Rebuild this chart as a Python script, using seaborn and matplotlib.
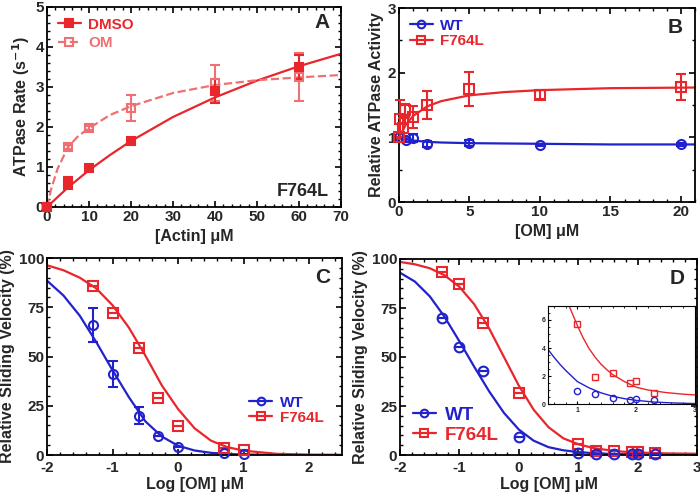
import numpy as np
import pandas as pd
import matplotlib
matplotlib.use("Agg")
import matplotlib.pyplot as plt
from matplotlib.lines import Line2D
from matplotlib.ticker import MultipleLocator
import seaborn as sns

# ---- panel A: actin-activated ATPase (F764L) ----
actin = [0, 5, 10, 20, 40, 60]
dmso_rate = [0, 0.6, 0.97, 1.65, 2.9, 3.5]
dmso_err = [0, 0.15, 0.05, 0.05, 0.3, 0.3]
om_rate = [0, 1.5, 1.97, 2.47, 3.1, 3.25]
om_err = [0, 0.05, 0.05, 0.32, 0.45, 0.6]
dmso_fit_x = [0, 5, 10, 15, 20, 30, 40, 50, 60, 70]
dmso_fit_y = [0, 0.49, 0.92, 1.30, 1.65, 2.25, 2.74, 3.16, 3.52, 3.83]
om_fit_x = [0, 1, 2.5, 5, 7.5, 10, 15, 20, 30, 40, 50, 60, 70]
om_fit_y = [0, 0.45, 0.95, 1.5, 1.78, 1.97, 2.3, 2.52, 2.85, 3.05, 3.17, 3.24, 3.3]

# ---- panel B: relative ATPase vs OM ----
b_wt_x = [0, 0.5, 1, 2, 5, 10, 20]
b_wt_y = [1.0, 0.96, 0.99, 0.9, 0.91, 0.88, 0.89]
b_wt_err = [0, 0.03, 0.06, 0.05, 0.05, 0.02, 0.02]
b_mut_x = [0, 0.1, 0.25, 0.4, 1, 2, 5, 10, 20]
b_mut_y = [1.0, 1.28, 1.15, 1.42, 1.32, 1.5, 1.75, 1.66, 1.78]
b_mut_err = [0, 0.3, 0.15, 0.1, 0.17, 0.22, 0.26, 0.07, 0.2]
b_wt_fit_x = [0, 0.5, 1, 2, 3, 5, 10, 15, 21]
b_wt_fit_y = [1.0, 0.97, 0.95, 0.93, 0.92, 0.91, 0.9, 0.89, 0.89]
b_mut_fit_x = [0, 0.25, 0.5, 1, 2, 3, 5, 7.5, 10, 15, 21]
b_mut_fit_y = [1.0, 1.1, 1.2, 1.33, 1.48, 1.56, 1.65, 1.7, 1.73, 1.76, 1.77]

# ---- panel C: sliding velocity ----
c_x = [-1.3, -1, -0.6, -0.3, 0, 0.7, 1]
c_wt_y = [66, 41, 20, 9.5, 4, 1, 0.5]
c_wt_err = [8.5, 6.5, 4.5, 0, 0, 0, 0]
c_mut_y = [86, 72, 54.5, 29, 14.5, 3.5, 2.5]
fit_x = [-2, -1.75, -1.5, -1.25, -1, -0.75, -0.5, -0.25, 0, 0.25, 0.5, 0.75, 1, 1.5, 2, 2.5]
c_wt_fit = [88.5, 81, 70.7, 57.4, 43, 29.3, 17.1, 9.4, 4.7, 2.3, 1.1, 0.5, 0.25, 0.05, 0, 0]
c_mut_fit = [96.3, 93.8, 90, 84.6, 76, 64.6, 50.5, 35.4, 23.3, 13.6, 7.3, 4.0, 2.2, 0.6, 0.15, 0.04]

# ---- panel D: sliding velocity, wider range ----
d_x = [-1.3, -1, -0.6, 0, 1, 1.3, 1.6, 1.9, 2, 2.3]
d_wt_y = [70, 55, 43, 9, 0.95, 0.7, 0.43, 0.3, 0.38, 0.26]
d_mut_y = [93.5, 87, 67.5, 31.5, 5.7, 1.95, 2.24, 1.52, 1.64, 0.81]
d_fit_x = [-2, -1.75, -1.5, -1.25, -1, -0.75, -0.5, -0.25, 0, 0.25, 0.5, 0.75, 1,
           1.25, 1.5, 1.75, 2, 2.5, 3]
d_wt_fit = [93, 88.5, 81, 70.5, 58, 45, 32.5, 21.5, 13, 7.3, 4.0, 2.4, 1.5,
            0.95, 0.62, 0.4, 0.26, 0.1, 0.04]
d_mut_fit = [98.5, 97.3, 95.3, 91.7, 85.8, 76.9, 64.6, 50, 35.4, 23.1, 14.2, 8.5, 5.5,
             3.6, 2.5, 1.7, 1.25, 0.8, 0.65]
# inset curves
ins_wt_x = [0.5, 0.6, 0.7, 0.8, 0.9, 1, 1.2, 1.4, 1.6, 1.8, 2, 2.3, 2.6, 3]
ins_wt_y = [3.9, 3.35, 2.85, 2.4, 2.0, 1.6, 1.15, 0.8, 0.55, 0.38, 0.26, 0.14, 0.08, 0.03]
ins_mut_x = [0.85, 0.9, 1, 1.1, 1.2, 1.3, 1.4, 1.5, 1.6, 1.8, 2, 2.2, 2.5, 2.8, 3]
ins_mut_y = [7.1, 6.6, 5.6, 4.7, 3.95, 3.35, 2.85, 2.45, 2.1, 1.6, 1.2, 1.0, 0.82, 0.7, 0.65]

RED = "#e8262b"
PINK = "#ef7072"
BLUE = "#2222cc"

sns.set_style("ticks")
plt.rcParams['font.family'] = ['Liberation Sans', 'DejaVu Sans']
plt.rcParams['font.weight'] = 'bold'
plt.rcParams['axes.labelweight'] = 'bold'
plt.rcParams['axes.linewidth'] = 1.3
plt.rcParams['axes.unicode_minus'] = False

fig = plt.figure(figsize=(7, 4.98), dpi=100)
W, H = 700, 498
LAB = 11.5


def px_axes(left, right, top, bottom):
    return fig.add_axes([left / W, (H - bottom) / H, (right - left) / W, (bottom - top) / H])


def style(ax, xmaj, xmin, ymaj, ymin, size=11):
    ax.xaxis.set_major_locator(MultipleLocator(xmaj))
    ax.xaxis.set_minor_locator(MultipleLocator(xmin))
    ax.yaxis.set_major_locator(MultipleLocator(ymaj))
    ax.yaxis.set_minor_locator(MultipleLocator(ymin))
    ax.tick_params(which='both', direction='in', top=True, right=True, labelsize=size,
                   color='black', pad=2)
    ax.tick_params(which='major', length=4, width=1.2)
    ax.tick_params(which='minor', length=2.5, width=1.0)
    for s in ax.spines.values():
        s.set_visible(True)
        s.set_color('black')


def curve(ax, x, y, color, ls='-', lw=1.6):
    sns.lineplot(x=x, y=y, ax=ax, color=color, linestyle=ls, linewidth=lw,
                 estimator=None, sort=False, legend=False)


def points(ax, x, y, err, color, marker, filled=False, ms=6.5):
    ax.errorbar(x, y, yerr=err, fmt=marker, color=color, ms=ms, mew=1.5,
                mfc=color if filled else 'none', mec=color, ecolor=color,
                elinewidth=1.5, capsize=3.5, capthick=1.5, clip_on=False, zorder=4)


def legend(ax, items, size=11, spacing=0.1, hlen=1.5, **kw):
    handles = [Line2D([], [], color=c, marker=m, ls=ls, lw=1.6, ms=5.5, mew=1.5,
                      mfc=c if f else 'none', mec=c) for c, m, ls, f, _ in items]
    leg = ax.legend(handles, [i[4] for i in items], frameon=False, handlelength=hlen,
                    handletextpad=0.5, borderaxespad=0.3, labelspacing=spacing,
                    prop={'size': size, 'weight': 'bold'}, **kw)
    for t, it in zip(leg.get_texts(), items):
        t.set_color(it[0])
    return leg


# ---- A ----
axA = px_axes(47, 341, 7, 207)
curve(axA, dmso_fit_x, dmso_fit_y, RED)
curve(axA, om_fit_x, om_fit_y, PINK, ls='--')
points(axA, actin, om_rate, om_err, PINK, 's', ms=6)
points(axA, actin, dmso_rate, dmso_err, RED, 's', filled=True, ms=6)
axA.set_xlim(0, 70)
axA.set_ylim(0, 5)
style(axA, 10, 2, 1, 0.2)
axA.set_xlabel('[Actin] μM', fontsize=LAB)
axA.set_ylabel('ATPase Rate (s$^{\\mathbf{-1}}$)', fontsize=LAB, labelpad=3)
axA.text(0.96, 0.92, 'A', transform=axA.transAxes, ha='right', va='center', fontsize=15)
axA.text(0.96, 0.08, 'F764L', transform=axA.transAxes, ha='right', va='center', fontsize=13)
legend(axA, [(RED, 's', '-', True, 'DMSO'), (PINK, 's', '--', False, 'OM')],
       spacing=0.3, loc='upper left')

# ---- B ----
axB = px_axes(399, 695, 8, 202)
curve(axB, b_wt_fit_x, b_wt_fit_y, BLUE)
curve(axB, b_mut_fit_x, b_mut_fit_y, RED)
points(axB, b_wt_x, b_wt_y, b_wt_err, BLUE, 'o')
points(axB, b_mut_x, b_mut_y, b_mut_err, RED, 's')
axB.set_xlim(0, 21)
axB.set_ylim(0, 3)
style(axB, 5, 1, 1, 0.5)
axB.set_xlabel('[OM] μM', fontsize=LAB)
axB.set_ylabel('Relative ATPase Activity', fontsize=LAB, labelpad=3)
axB.text(0.96, 0.9, 'B', transform=axB.transAxes, ha='right', va='center', fontsize=15)
legend(axB, [(BLUE, 'o', '-', False, 'WT'), (RED, 's', '-', False, 'F764L')], loc='upper left')

# ---- C ----
axC = px_axes(47, 342, 258, 455)
curve(axC, fit_x, c_wt_fit, BLUE)
curve(axC, fit_x, c_mut_fit, RED)
points(axC, c_x, c_wt_y, c_wt_err, BLUE, 'o')
points(axC, c_x, c_mut_y, [0] * len(c_x), RED, 's')
axC.set_xlim(-2, 2.5)
axC.set_ylim(0, 100)
style(axC, 1, 0.2, 25, 5)
axC.tick_params(axis='x', pad=4)
axC.set_xlabel('Log [OM] μM', fontsize=LAB, labelpad=2)
axC.set_ylabel('Relative Sliding Velocity (%)', fontsize=LAB, labelpad=3)
axC.text(0.96, 0.9, 'C', transform=axC.transAxes, ha='right', va='center', fontsize=15)
legend(axC, [(BLUE, 'o', '-', False, 'WT'), (RED, 's', '-', False, 'F764L')],
       spacing=0.05, loc='lower left', bbox_to_anchor=(0.65, 0.1))

# ---- D ----
axD = px_axes(400, 697, 259, 455)
curve(axD, d_fit_x, d_wt_fit, BLUE)
curve(axD, d_fit_x, d_mut_fit, RED)
points(axD, d_x, d_mut_y, [0] * len(d_x), RED, 's', ms=7)
points(axD, d_x, d_wt_y, [0] * len(d_x), BLUE, 'o', ms=7)
axD.set_xlim(-2, 3)
axD.set_ylim(0, 100)
style(axD, 1, 0.2, 25, 5)
axD.tick_params(axis='x', pad=4)
axD.set_xlabel('Log [OM] μM', fontsize=LAB, labelpad=2)
axD.set_ylabel('Relative Sliding Velocity (%)', fontsize=LAB, labelpad=3)
axD.text(0.96, 0.9, 'D', transform=axD.transAxes, ha='right', va='center', fontsize=15)
legend(axD, [(BLUE, 'o', '-', False, 'WT'), (RED, 's', '-', False, 'F764L')],
       size=13.5, spacing=0.15, hlen=1.2, loc='lower left', bbox_to_anchor=(0.0, -0.01))

# inset
axI = px_axes(548, 695, 306, 404)
curve(axI, ins_wt_x, ins_wt_y, BLUE, lw=1.0)
curve(axI, ins_mut_x, ins_mut_y, RED, lw=1.0)
axI.plot(d_x[4:], d_mut_y[4:], 's', color=RED, mfc='none', ms=4.5, mew=1.0)
axI.plot(d_x[4:], d_wt_y[4:], 'o', color=BLUE, mfc='none', ms=4.5, mew=1.0)
axI.set_xlim(0.5, 3)
axI.set_ylim(0, 7)
style(axI, 1, 0.2, 2, 0.5, size=5)
axI.tick_params(which='major', length=2.5, width=0.8)
axI.tick_params(which='minor', length=1.5, width=0.6)
axI.tick_params(which='both', right=False, top=True)
for s in axI.spines.values():
    s.set_linewidth(0.8)
axI.set_facecolor('white')

fig.savefig('out.png', dpi=100)
